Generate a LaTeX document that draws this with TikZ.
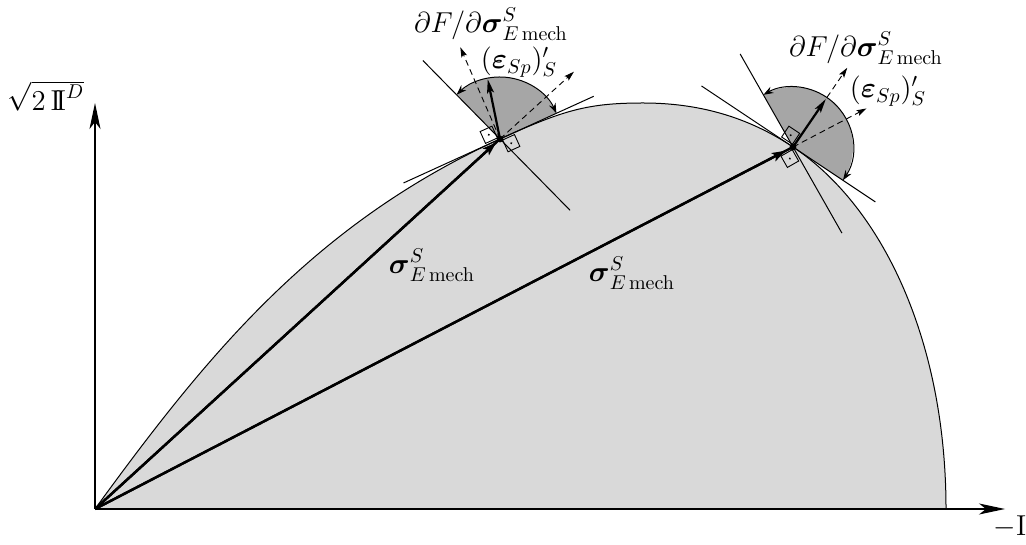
\documentclass[tikz,border=0pt]{standalone}
\usepackage{amsmath}
\usetikzlibrary{arrows.meta}
\definecolor{lightfill}{gray}{0.85}
\definecolor{darkfill}{gray}{0.65}
\begin{document}
\begin{tikzpicture}[x=0.5pt,y=0.5pt,
  axisline/.style={line width=0.7pt,-{Stealth[length=13pt,width=5.5pt,inset=3.5pt]}},
  mainvec/.style={line width=1.2pt},
  mainhead/.style={line width=1.2pt,-{Stealth[length=7pt,width=4.5pt,inset=1.5pt]}},
  flowvec/.style={line width=1.1pt,-{Stealth[length=7pt,width=3.5pt,inset=1.5pt]}},
  dashvec/.style={line width=0.45pt,dash pattern=on 3pt off 2pt,-{Stealth[length=5pt,width=3pt,inset=1pt]}},
  thinline/.style={line width=0.5pt},
  anglearc/.style={line width=0.5pt,{Stealth[length=5pt,width=3.5pt]}-{Stealth[length=5pt,width=3.5pt]}},
  rangle/.style={line width=0.45pt},
  lbl/.style={font=\Large,inner sep=0pt},
  axlbl/.style={font=\Large,inner sep=0pt}]
\useasboundingbox (-95,-36) rectangle (931,509);

\coordinate (O) at (0,0);
\coordinate (P1) at (405,370);
\coordinate (P2) at (698,362);
\coordinate (Xend) at (910,0);
\coordinate (Yend) at (0,406);

% yield surface region
\fill[lightfill] (O) .. controls (111.7,153.7) and (218.5,284.9) .. (P1)
  .. controls (468.7,399) and (493,406) .. (548,406)
  .. controls (603,406) and (652.2,392.5) .. (P2)
  .. controls (789.5,301) and (851,165) .. (851,0) -- cycle;

% sectors
\fill[darkfill] (P1) -- ++(24.5:62) arc[start angle=24.5,end angle=134.5,radius=62] -- cycle;
\fill[darkfill] (P2) -- ++(-33.7:60) arc[start angle=-33.7,end angle=119.6,radius=60] -- cycle;

% curve
\draw[thinline] (O) .. controls (111.7,153.7) and (218.5,284.9) .. (P1)
  .. controls (468.7,399) and (493,406) .. (548,406)
  .. controls (603,406) and (652.2,392.5) .. (P2)
  .. controls (789.5,301) and (851,165) .. (851,0);

% axes
\draw[axisline] (O) -- (Xend);
\draw[axisline] (O) -- (Yend);

% construction points
\path (P1) ++(204.5:106) coordinate (T1a);
\path (P1) ++(24.5:103) coordinate (T1b);
\path (P1) ++(134.5:110) coordinate (B1a);
\path (P1) ++(-45.5:100) coordinate (B1b);
\path (P1) ++(101.6:61) coordinate (S1);
\path (P1) ++(113.4:100) coordinate (F1);
\path (P1) ++(42.3:100) coordinate (E1);

\path (P2) ++(146.3:110) coordinate (T2a);
\path (P2) ++(-33.7:99) coordinate (T2b);
\path (P2) ++(119.6:107) coordinate (B2a);
\path (P2) ++(-60.4:99) coordinate (B2b);
\path (P2) ++(55.6:58) coordinate (S2);
\path (P2) ++(55.6:96) coordinate (F2);
\path (P2) ++(27.7:83) coordinate (E2);

% lines through points
\draw[thinline] (T1a) -- (T1b);
\draw[thinline] (B1a) -- (B1b);
\draw[thinline] (T2a) -- (T2b);
\draw[thinline] (B2a) -- (B2b);

% angle arcs
\draw[anglearc] (P1) ++(24.5:62) arc[start angle=24.5,end angle=134.5,radius=62];
\draw[anglearc] (P2) ++(-33.7:60) arc[start angle=-33.7,end angle=119.6,radius=60];

% dashed normals
\draw[dashvec] (P1) -- (F1);
\draw[dashvec] (P1) -- (E1);
\draw[dashvec] (P2) -- (F2);
\draw[dashvec] (P2) -- (E2);

% right angle markers
\begin{scope}[shift={(P1)},rotate=114.5]
  \draw[rangle] (2,2) rectangle (15,15);
  \fill (8.5,8.5) circle (1.1);
\end{scope}
\begin{scope}[shift={(P1)},rotate=-65.5]
  \draw[rangle] (2,2) rectangle (15,15);
  \fill (8.5,8.5) circle (1.1);
\end{scope}
\begin{scope}[shift={(P2)},rotate=56.3]
  \draw[rangle] (2,2) rectangle (15,15);
  \fill (8.5,8.5) circle (1.1);
\end{scope}
\begin{scope}[shift={(P2)},rotate=209.6]
  \draw[rangle] (2,2) rectangle (15,15);
  \fill (8.5,8.5) circle (1.1);
\end{scope}

% stress vectors
\draw[mainvec] (O) -- (P1);
\draw[mainvec] (O) -- (P2);
\draw[mainhead,shorten >=2.5pt] (O) -- (P1);
\draw[mainhead,shorten >=4pt] (O) -- (P2);

% flow vectors
\draw[flowvec] (P1) -- (S1);
\draw[flowvec] (P2) -- (S2);

% points
\fill (P1) circle (3.4);
\fill (P2) circle (3.4);

% labels
\node[lbl] (dF1) at (396,485) {$\partial F/\partial\boldsymbol{\sigma}^S_{E\,\mathrm{mech}}$};
\node[lbl] (eps1) at (424,447) {$(\boldsymbol{\varepsilon}_{Sp})'_S$};
\node[lbl] (dF2) at (771,461) {$\partial F/\partial\boldsymbol{\sigma}^S_{E\,\mathrm{mech}}$};
\node[lbl] (eps2) at (793,418) {$(\boldsymbol{\varepsilon}_{Sp})'_S$};
\node[lbl] (sig1) at (337,244) {$\boldsymbol{\sigma}^S_{E\,\mathrm{mech}}$};
\node[lbl] (sig2) at (537,236) {$\boldsymbol{\sigma}^S_{E\,\mathrm{mech}}$};
\node[axlbl] (ylab) at (-49,413) {$\sqrt{2\,\mathrm{I\!I}^D}$};
\node[axlbl] (xlab) at (915,-18) {$-\mathrm{I}$};
\end{tikzpicture}
\end{document}
